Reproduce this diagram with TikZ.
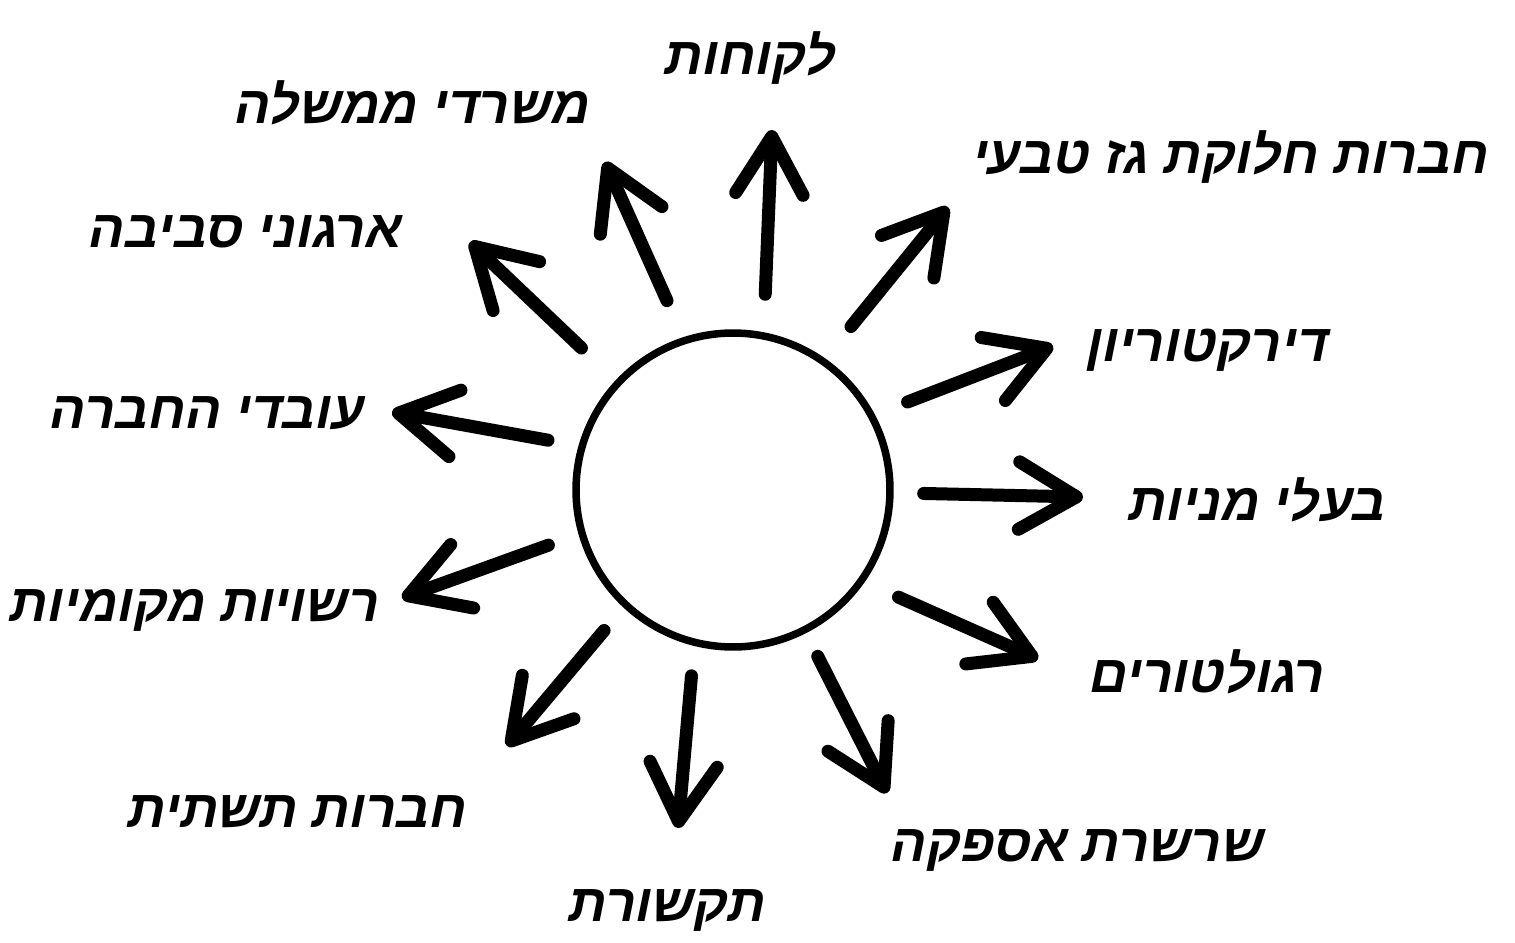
\documentclass[tikz,border=0pt]{standalone}
\usepackage{fontspec}
\usetikzlibrary{arrows.meta}
\TeXXeTstate=1
\newfontfamily\hebfont[Script=Hebrew,FakeSlant=0.2]{Liberation Sans}
\newcommand{\heb}[1]{{\hebfont\bfseries\beginR #1\endR}}

\begin{document}
\begin{tikzpicture}[x=0.02cm,y=-0.02cm,
  lbl/.style={font=\fontsize{30}{34}\selectfont,inner sep=0pt},
  arr/.style={line width=0.26cm,line cap=round,-{Straight Barb[length=1.15cm,width=1.35cm,round]}}]
\useasboundingbox (0,0) rectangle (1515,943);
\node[draw,circle,line width=0.15cm,minimum size=6.28cm] (c) at (733,490) {};

% labels
\node[lbl] (cust)   at (748,58)   {\heb{לקוחות}};
\node[lbl] (gov)    at (410,103)  {\heb{משרדי ממשלה}};
\node[lbl] (gas)    at (1228,157) {\heb{חברות חלוקת גז טבעי}};
\node[lbl] (env)    at (243,232)  {\heb{ארגוני סביבה}};
\node[lbl] (board)  at (1205,350) {\heb{דירקטוריון}};
\node[lbl] (staff)  at (205,413)  {\heb{עובדי החברה}};
\node[lbl] (share)  at (1255,500) {\heb{בעלי מניות}};
\node[lbl] (local)  at (192,610)  {\heb{רשויות מקומיות}};
\node[lbl] (reg)    at (1205,672) {\heb{רגולטורים}};
\node[lbl] (infra)  at (295,812)  {\heb{חברות תשתית}};
\node[lbl] (media)  at (665,910)  {\heb{תקשורת}};
\node[lbl] (supply) at (1075,850) {\heb{שרשרת אספקה}};

% arrow tips
\coordinate (t-cust)   at (772,130);
\coordinate (t-gov)    at (605,162);
\coordinate (t-env)    at (470,242);
\coordinate (t-staff)  at (392,412);
\coordinate (t-local)  at (402,598);
\coordinate (t-infra)  at (507,746);
\coordinate (t-media)  at (678,828);
\coordinate (t-supply) at (887,793);
\coordinate (t-reg)    at (1038,659);
\coordinate (t-share)  at (1083,497);
\coordinate (t-board)  at (1053,346);
\coordinate (t-gas)    at (948,207);

\draw[arr,shorten <=0.76cm] (c.79.3)  -- (t-cust);
\draw[arr,shorten <=0.80cm] (c.108.9) -- (t-gov);
\draw[arr,shorten <=0.94cm] (c.137.5) -- (t-env);
\draw[arr,shorten <=0.62cm] (c.164.9) -- (t-staff);
\draw[arr,shorten <=0.64cm] (c.196.6) -- (t-local);
\draw[arr,shorten <=0.60cm] (c.227.1) -- (t-infra);
\draw[arr,shorten <=0.60cm] (c.256.9) -- (t-media);
\draw[arr,shorten <=0.52cm] (c.297.8) -- (t-supply);
\draw[arr,shorten <=0.74cm] (c.325.1) -- (t-reg);
\draw[arr,shorten <=0.60cm] (c.359.0) -- (t-share);
\draw[arr,shorten <=0.70cm] (c.28.1)  -- (t-board);
\draw[arr,shorten <=0.82cm] (c.55.1)  -- (t-gas);
\end{tikzpicture}
\end{document}
